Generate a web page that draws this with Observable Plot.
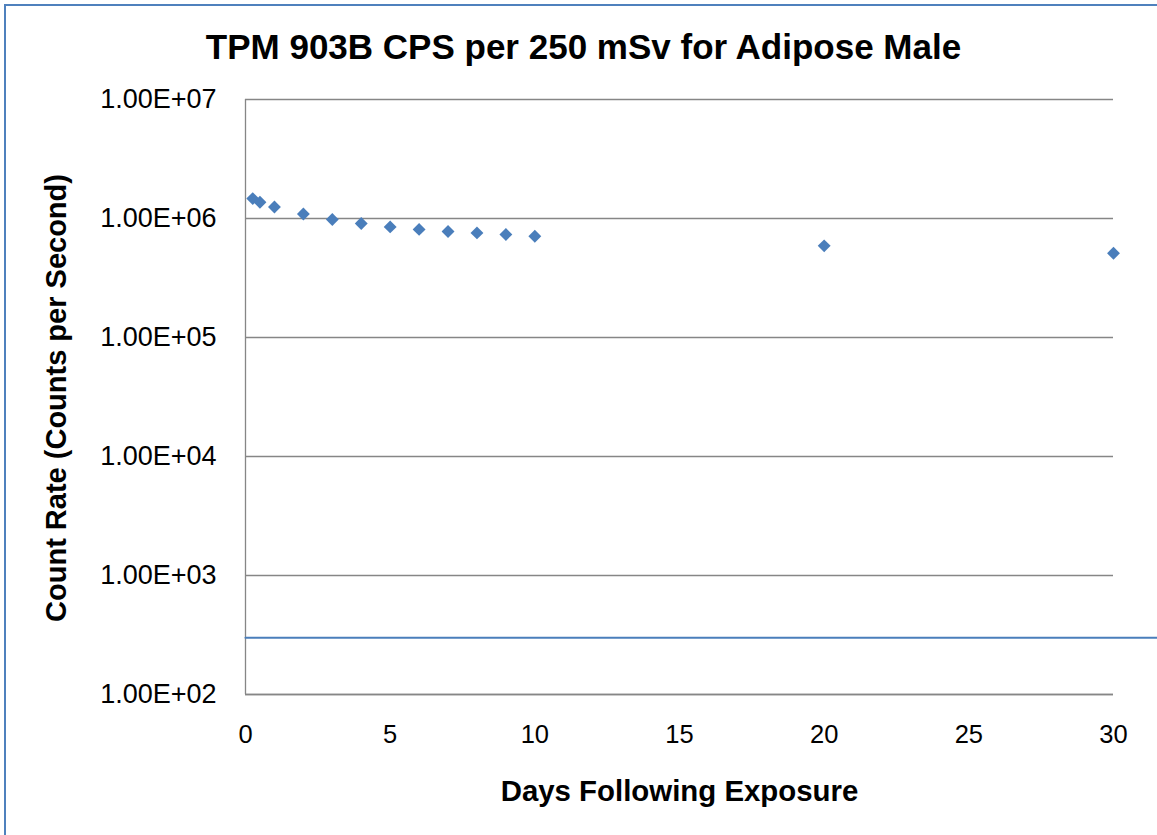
<!DOCTYPE html>
<html>
<head>
<meta charset="utf-8">
<script src="https://cdn.jsdelivr.net/npm/d3@7"></script>
<script src="https://cdn.jsdelivr.net/npm/@observablehq/plot@0.6"></script>
<style>
  html, body { margin: 0; padding: 0; background: #fff; overflow: hidden; }
  #wrap { position: relative; width: 1157px; height: 835px; overflow: hidden; }
  #border { position: absolute; left: 4px; top: 4px; width: 1300px; height: 1000px;
            border: 2px solid #4f81bd; box-sizing: border-box; pointer-events: none; }
  svg { display: block; }
</style>
</head>
<body>
<div id="wrap"><div id="chart"></div><div id="border"></div></div>
<script>
const title = "TPM 903B CPS per 250 mSv for Adipose Male";
const xLabel = "Days Following Exposure";
const yLabel = "Count Rate (Counts per Second)";

const days = [0.25, 0.5, 1, 2, 3, 4, 5, 6, 7, 8, 9, 10, 20, 30];
const cps = [1.47e6, 1.37e6, 1.25e6, 1.09e6, 9.8e5, 9.08e5, 8.5e5, 8.1e5, 7.78e5, 7.57e5, 7.34e5, 7.1e5, 5.89e5, 5.1e5];

const limitDays = [0, 40];
const limitCps = [300, 300];

const xTicks = [0, 5, 10, 15, 20, 25, 30];
const yTicks = [1e2, 1e3, 1e4, 1e5, 1e6, 1e7];
const yTickLabels = ["1.00E+02", "1.00E+03", "1.00E+04", "1.00E+05", "1.00E+06", "1.00E+07"];

const points = days.map((d, i) => ({x: d, y: cps[i]}));
const limit = limitDays.map((d, i) => ({x: d, y: limitCps[i]}));

const font = "'Liberation Sans', Arial, sans-serif";
const blue = "#4a7ebb";
const gray = "#868686";

const chart = Plot.plot({
  width: 1157,
  height: 835,
  marginLeft: 245,
  marginRight: 44,
  marginTop: 99,
  marginBottom: 141,
  style: {fontFamily: font, background: "transparent", overflow: "visible"},
  x: {domain: [0, 30]},
  y: {type: "log", domain: [1e2, 1e7]},
  marks: [
    Plot.gridY(yTicks, {stroke: gray, strokeOpacity: 1, strokeWidth: 1.3}),
    Plot.ruleX([0], {stroke: gray, strokeWidth: 1.3}),
    Plot.ruleY([1e2], {stroke: gray, strokeWidth: 1.3}),
    Plot.axisY(yTicks, {tickSize: 0, tickPadding: 29, fontSize: 27, fill: "#000",
      tickFormat: d => yTickLabels[yTicks.indexOf(d)], label: null}),
    Plot.axisX(xTicks, {tickSize: 0, tickPadding: 30, fontSize: 25.5, fill: "#000", label: null}),
    Plot.lineY(limit, {x: "x", y: "y", stroke: blue, strokeWidth: 2, clip: false}),
    Plot.dot(points, {x: "x", y: "y", symbol: "diamond2", r: 5.8, fill: blue, stroke: "none"}),
    Plot.text([title], {frameAnchor: "top", dx: -96, dy: -52, fontSize: 35, fontWeight: "bold", fill: "#000", lineAnchor: "middle"}),
    Plot.text([xLabel], {frameAnchor: "bottom", dy: 97, fontSize: 29.4, fontWeight: "bold", fill: "#000", lineAnchor: "middle"}),
    Plot.text([yLabel], {frameAnchor: "left", dx: -189, dy: 1, rotate: -90, textAnchor: "middle", fontSize: 29, fontWeight: "bold", fill: "#000", lineAnchor: "middle"})
  ]
});
document.getElementById("chart").append(chart);
</script>
</body>
</html>
